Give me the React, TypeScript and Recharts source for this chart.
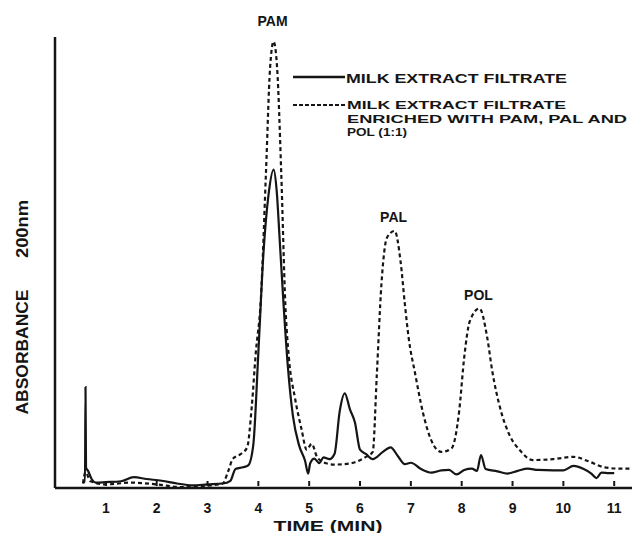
import React from "react";
import {
  LineChart,
  Line,
  XAxis,
  YAxis,
  Label,
  ReferenceDot,
  Customized,
} from "recharts";

// retention time (min) / absorbance (arbitrary units, 0-100)
const filtrateTime = [
  0.55, 0.59, 0.6, 0.61, 0.65, 0.72, 0.8, 1.0, 1.3, 1.55, 1.8, 2.1, 2.4, 2.7,
  3.0, 3.3, 3.45, 3.55, 3.7, 3.8, 3.9, 4.0, 4.1, 4.2, 4.3, 4.36, 4.42, 4.5,
  4.58, 4.68, 4.8, 4.92, 4.98, 5.02, 5.1, 5.2, 5.28, 5.4, 5.5, 5.6, 5.7, 5.8,
  5.9, 6.0, 6.12, 6.25, 6.45, 6.6, 6.75, 6.88, 7.0, 7.2, 7.4, 7.6, 7.75, 7.9,
  8.05, 8.2, 8.3, 8.38, 8.47, 8.7, 8.9, 9.1, 9.3, 9.5, 9.8, 10.0, 10.2, 10.4,
  10.55, 10.65, 10.75, 10.9, 11.0,
];
const filtrateSignal = [
  1.3, 1.3, 22.4, 4.5, 3.8, 2.0, 1.2, 1.3, 1.5, 2.4, 2.0, 1.6, 1.0, 0.6, 0.8,
  1.0, 1.6, 4.2, 4.6, 5.0, 9.5, 30, 52, 65, 70.6, 66, 55, 40, 27, 16, 9.5, 6,
  3.2, 5.5, 6.5, 5.5, 6.8, 6.4, 7.6, 17, 21, 17.5, 14.5, 8.5, 7.5, 6.4, 8.0,
  9.0, 7.0, 5.3, 5.6, 4.2, 3.4, 3.9, 4.0, 3.0, 4.0, 4.3, 3.8, 7.3, 4.2, 3.7,
  3.2, 3.8, 4.3, 4.0, 3.9, 3.9, 4.9, 4.2, 3.2, 2.2, 3.4, 3.3, 3.3,
];

const enrichedTime = [
  0.55, 0.6, 0.7, 1.0, 1.5, 2.0, 2.5, 3.0, 3.3, 3.4, 3.5, 3.65, 3.78, 3.87,
  3.95, 4.05, 4.15, 4.23, 4.3, 4.37, 4.45, 4.53, 4.6, 4.72, 4.85, 4.95, 5.05,
  5.15, 5.3, 5.5, 5.7, 5.9, 6.1, 6.25, 6.33, 6.42, 6.53, 6.68, 6.8, 6.88, 6.96,
  7.08, 7.24, 7.4, 7.6, 7.8, 7.95, 8.05, 8.16, 8.35, 8.5, 8.6, 8.75, 8.93,
  9.15, 9.4, 9.8, 10.2, 10.5, 10.8, 11.1, 11.35,
];
const enrichedSignal = [
  1.0, 3.5, 1.5, 0.8, 1.2, 0.8, 0.2, 0.5, 1.0, 3.5, 6.5, 7.5, 9, 18, 30, 42,
  70, 93, 99, 93, 70, 41, 29, 20, 13, 8.5, 9.8, 7, 5.6, 5.2, 5.3, 5.7, 6.8, 8,
  25, 45, 55.5, 57, 50, 41, 33, 25.6, 16.6, 10.6, 8, 8.8, 17, 29, 37, 39.8,
  33.5, 26, 18, 12, 8.3, 6.2, 6.4, 6.9, 5.9, 4.6, 4.3, 4.3,
];

const timeTicks = [1, 2, 3, 4, 5, 6, 7, 8, 9, 10, 11];

const peakNames = ["PAM", "PAL", "POL"];
const peakTimes = [4.3, 6.68, 8.35];
const peakHeights = [99, 57, 39.8];

const filtrate = filtrateTime.map((t, i) => ({ t, v: filtrateSignal[i] }));
const enriched = enrichedTime.map((t, i) => ({ t, v: enrichedSignal[i] }));

const INK = "#151515";
const FONT = "'Liberation Sans', Arial, sans-serif";

const TimeTick = (props: any) => {
  const { x, y, payload } = props;
  return (
    <g>
      <line x1={x} x2={x} y1={y - 7} y2={y - 2} stroke={INK} strokeWidth={2} />
      <text
        x={x}
        y={y + 25}
        textAnchor="middle"
        fontFamily={FONT}
        fontWeight="bold"
        fontSize={14}
        fill={INK}
      >
        {payload.value}
      </text>
    </g>
  );
};

const YTitle = () => (
  <g fontFamily={FONT} fontWeight="bold" fontSize={16} fill={INK}>
    <text
      x={28}
      y={352}
      textAnchor="middle"
      transform="rotate(-90 28 352)"
      textLength={125}
      lengthAdjust="spacingAndGlyphs"
    >
      ABSORBANCE
    </text>
    <text
      x={28}
      y={229}
      textAnchor="middle"
      transform="rotate(-90 28 229)"
      textLength={58}
      lengthAdjust="spacingAndGlyphs"
    >
      200nm
    </text>
  </g>
);

const XTitle = () => (
  <text
    x={328}
    y={531}
    textAnchor="middle"
    fontFamily={FONT}
    fontWeight="bold"
    fontSize={15}
    fill={INK}
    textLength={109}
    lengthAdjust="spacingAndGlyphs"
  >
    TIME (MIN)
  </text>
);

const LegendBlock = () => (
  <g fontFamily={FONT} fontWeight="bold" fontSize={11.5} fill={INK}>
    <line x1={293} x2={345} y1={77} y2={77} stroke={INK} strokeWidth={2.5} />
    <text x={346} y={83} fontSize={13} textLength={221} lengthAdjust="spacingAndGlyphs">
      MILK EXTRACT FILTRATE
    </text>
    <line
      x1={293}
      x2={345}
      y1={105}
      y2={105}
      stroke={INK}
      strokeWidth={2}
      strokeDasharray="4 2"
    />
    <text x={347} y={109} textLength={219} lengthAdjust="spacingAndGlyphs">
      MILK EXTRACT FILTRATE
    </text>
    <text x={347} y={122.5} textLength={280} lengthAdjust="spacingAndGlyphs">
      ENRICHED WITH PAM, PAL AND
    </text>
    <text x={347} y={136} textLength={60} lengthAdjust="spacingAndGlyphs">
      POL (1:1)
    </text>
  </g>
);

const PeakLabel = (name: string) => (props: any) => {
  const vb = props.viewBox || {};
  const cx = (vb.x ?? 0) + (vb.width ?? 0) / 2;
  const cy = (vb.y ?? 0) + (vb.height ?? 0) / 2;
  const gap = name === "PAM" ? 16 : 9;
  return (
    <text
      x={cx - 1}
      y={cy - gap}
      textAnchor="middle"
      fontFamily={FONT}
      fontWeight="bold"
      fontSize={14}
      fill={INK}
    >
      {name}
    </text>
  );
};

export default function App() {
  return (
    <div style={{ position: "absolute", left: 0, top: 0, background: "#fff" }}>
      <LineChart
        width={632}
        height={533}
        margin={{ top: 37, right: 0, bottom: 0, left: 0 }}
      >
        <XAxis
          dataKey="t"
          type="number"
          domain={[0, 11.35]}
          ticks={timeTicks}
          allowDuplicatedCategory={false}
          height={45}
          tickSize={0}
          tickMargin={0}
          tickLine={false}
          tick={<TimeTick />}
          axisLine={{ stroke: INK, strokeWidth: 2.5 }}
        >
          <Label content={<XTitle />} />
        </XAxis>
        <YAxis
          type="number"
          domain={[0, 100]}
          width={55}
          tick={false}
          tickLine={false}
          axisLine={{ stroke: INK, strokeWidth: 2.5 }}
        >
          <Label content={<YTitle />} />
        </YAxis>
        <Line
          data={filtrate}
          dataKey="v"
          type="monotone"
          stroke={INK}
          strokeWidth={2.2}
          dot={false}
          activeDot={false}
          isAnimationActive={false}
        />
        <Line
          data={enriched}
          dataKey="v"
          type="monotone"
          stroke={INK}
          strokeWidth={2.2}
          strokeDasharray="4 3"
          dot={false}
          activeDot={false}
          isAnimationActive={false}
        />
        {peakNames.map((name, i) => (
          <ReferenceDot
            key={name}
            x={peakTimes[i]}
            y={peakHeights[i]}
            r={1}
            fill="none"
            stroke="none"
            label={PeakLabel(name)}
          />
        ))}
        <Customized component={LegendBlock} />
      </LineChart>
    </div>
  );
}
